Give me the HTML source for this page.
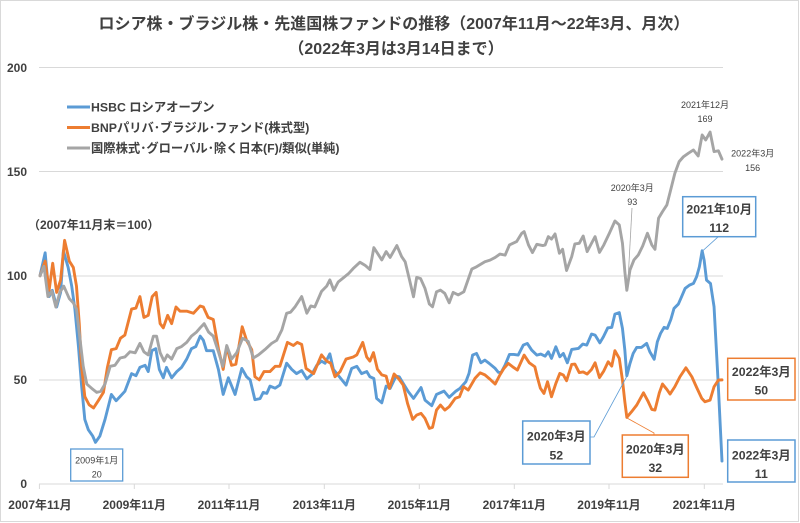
<!DOCTYPE html>
<html><head><meta charset="utf-8">
<style>
html,body{margin:0;padding:0;background:#fff;}
svg{display:block;}
text{font-family:"Liberation Sans","Noto Sans CJK JP",sans-serif;fill:#404040;}
.b{font-weight:bold;}
</style></head>
<body>
<svg width="800" height="523" viewBox="0 0 800 523" xmlns="http://www.w3.org/2000/svg">
<rect x="0" y="0" width="800" height="523" fill="#fff"/>
<rect x="0.5" y="0.5" width="798" height="521" fill="none" stroke="#d9d9d9" stroke-width="1"/>

<!-- Title -->
<text class="b" x="394" y="29" font-size="16" text-anchor="middle">ロシア株・ブラジル株・先進国株ファンドの推移（2007年11月～22年3月、月次）</text>
<text class="b" x="396" y="54" font-size="16" text-anchor="middle">（2022年3月は3月14日まで）</text>

<!-- gridlines -->
<g stroke="#d9d9d9" stroke-width="1">
<line x1="39" y1="67.5" x2="723" y2="67.5"/>
<line x1="39" y1="171.5" x2="723" y2="171.5"/>
<line x1="39" y1="276" x2="723" y2="276"/>
<line x1="39" y1="380" x2="723" y2="380"/>
<line x1="39" y1="484" x2="723" y2="484"/>
<line x1="39.4" y1="484" x2="39.4" y2="489"/>
<line x1="134.3" y1="484" x2="134.3" y2="489"/>
<line x1="229" y1="484" x2="229" y2="489"/>
<line x1="324.3" y1="484" x2="324.3" y2="489"/>
<line x1="419.3" y1="484" x2="419.3" y2="489"/>
<line x1="514.3" y1="484" x2="514.3" y2="489"/>
<line x1="609" y1="484" x2="609" y2="489"/>
<line x1="704.3" y1="484" x2="704.3" y2="489"/>
</g>

<!-- y labels -->
<g class="b" font-size="12" text-anchor="end">
<text class="b" x="27" y="72">200</text>
<text class="b" x="27" y="176">150</text>
<text class="b" x="27" y="280">100</text>
<text class="b" x="27" y="384">50</text>
<text class="b" x="27" y="488">0</text>
</g>

<!-- x labels -->
<g font-size="12" text-anchor="middle">
<text class="b" x="40" y="509">2007年11月</text>
<text class="b" x="134.3" y="509">2009年11月</text>
<text class="b" x="229" y="509">2011年11月</text>
<text class="b" x="324.3" y="509">2013年11月</text>
<text class="b" x="419.3" y="509">2015年11月</text>
<text class="b" x="514.3" y="509">2017年11月</text>
<text class="b" x="609" y="509">2019年11月</text>
<text class="b" x="704.3" y="509">2021年11月</text>
</g>

<!-- legend -->
<line x1="67" y1="107" x2="90" y2="107" stroke="#5B9BD5" stroke-width="3"/>
<line x1="67" y1="127.5" x2="90" y2="127.5" stroke="#ED7D31" stroke-width="3"/>
<line x1="67" y1="148" x2="90" y2="148" stroke="#A5A5A5" stroke-width="3"/>
<text class="b" x="91" y="111.5" font-size="12.3">HSBC ロシアオープン</text>
<text class="b" x="91" y="132" font-size="12.3">BNPパリバ･ブラジル･ファンド(株式型)</text>
<text class="b" x="91" y="152.5" font-size="12.3">国際株式･グローバル･除く日本(F)/類似(単純)</text>

<text class="b" x="28" y="229" font-size="12">（2007年11月末＝100）</text>

<!-- series -->
<g transform="translate(40 484) scale(3.965 -2.0825)" fill="none" stroke-linejoin="round" stroke-linecap="round">
<polyline vector-effect="non-scaling-stroke" stroke="#5B9BD5" stroke-width="2.9" points="0,100 1.3,111 2.3,90 3.1,93 4.2,85 5.2,92 5.9,112 7.1,104 8,95 8.8,84 9.7,66 10.5,47 11.3,31 12.2,26 13.3,23 14,20 15.1,23 16.4,31 18,43 19.2,40 20.2,42 21.4,44.5 23.1,53 24.2,52 25.2,56 26.5,57 27.3,54 28.2,64 29.2,65 30.1,55 31.1,51 31.9,56 33.2,51 34.5,54 35.7,56 37,60 38.2,65 39.3,66 40.4,71 41.2,69 42,64 43.7,64 45,55 46.2,43 47.5,51 49.2,43 50.9,55.5 52.1,51.5 53,50 54.2,40.5 55.5,41 56.3,44 57.2,43.5 58,47 59.3,46 60.5,47.5 62.2,58 63.5,55 64.7,53 66,54.5 67.3,50.5 68.5,52.5 69.8,57 71,59 71.9,58 73.1,62.5 74,55 75.5,51.5 77.2,47.5 78.6,55.5 79.9,56.5 81.1,53 82.4,54 83.2,51.5 84.2,50.7 84.9,41.1 86.2,39 87.3,47 88.3,45.9 89.8,51.8 90.6,51.5 91.6,48.3 92.9,44.3 94.2,41.1 96.1,46.3 97.1,40.3 98.8,37.6 100,43 101.9,44.6 103.2,41.6 104.9,44.6 105.9,45.9 107.4,49.1 108.2,53.1 109.1,61.9 110.1,62.7 111.2,58.2 112.2,59.5 113.3,57.9 114.8,55.5 115.6,53.6 116.4,53.9 117.3,57.1 118.4,62.2 119.5,62.2 120.6,61.9 121.9,66.7 122.9,67.5 124,64.3 125.3,61.9 126.3,62.4 127.4,61.4 128.2,63.5 129,60.3 130.1,65.9 131.1,61.1 132,62.7 133,58.2 134.1,64.6 135.8,65.1 136.9,67.2 137.9,66.7 139.1,72 140,71.5 141.2,67.8 142.1,70.7 143.2,75 144.2,75.2 145,81.6 146.1,82.3 146.9,74.7 147.5,64.3 148,52 148.8,57.9 149.6,62.7 150.5,65.6 151.7,65.6 153,67.5 153.8,63.5 154.9,59.9 155.7,68.3 156.5,72.3 157.4,75.2 158.2,74.7 159.1,79 159.9,84.3 161,86.4 161.8,89.9 162.7,93.9 163.8,95.5 164.8,96.3 165.6,99.5 166.3,104.3 167,112 167.5,107.5 168.1,97.9 169.1,96.3 170,85.1 171,50 172,11"/>
<polyline vector-effect="non-scaling-stroke" stroke="#ED7D31" stroke-width="2.9" points="0,100 1.3,107 2.3,93 3.2,106 4.2,92 5.2,98 6.2,117 7.4,107 8.4,104 9.2,95 9.9,77 10.5,56 11.3,42 12.4,38 13.5,36.5 14.7,40 16,44 17,56 18,64.5 19.2,65 20.3,70 21.4,71.5 23.1,84 24.2,84.5 25.2,90 26.2,80 27.3,81 28.3,90 29.3,92 30.3,77 31.1,75 32.2,81 33.2,77 34.3,85 35.3,83 37,83 38.7,82 40.4,85.5 41.2,85 42.4,80 43.7,79 45,65 46.2,55 47.1,66 48.3,57 49.4,57.5 51,75.5 52.1,69 53.4,64.5 54.2,51.5 55.3,50 56.5,54 58,54 59.3,56.5 60.5,56.5 62.4,68 63.9,66.5 64.9,68 66,67 67.1,55.5 69,53 71,62 72.3,59 73.3,58 74.4,51.5 75.7,54 77.2,60 79,61 79.9,62 81.4,68 82.4,61 83.2,59 84.1,63.1 85.1,55.1 86.2,52.4 87.3,51.8 88.1,45.9 89.3,52.8 90.4,50.7 91.6,47.5 92.7,38.7 94,31 95,33.1 96.1,33.9 97.1,31.5 98.2,26.7 99,27.2 100,35.5 101,37.9 102.1,35.5 103.2,37.1 104.7,41.1 105.8,41.9 106.8,46.7 108,45.1 109.7,50.7 111,53.4 112.2,52.4 113.5,50.3 114.8,48 116,52.4 117,55.5 118.1,57.9 119.2,56.3 120.4,54.7 122.1,61.9 123.4,58.2 124.8,56.3 125.4,51.5 126.2,46 127.1,43.5 128,49.1 129,41.9 130.1,48.3 131.1,53.1 132,52.3 132.8,49.6 134.1,57.4 134.9,57.6 136,53.5 137,53.8 138,52.8 139.1,55 140,58.2 141.1,51.1 142.2,54.3 143.3,58.7 144.2,56.6 145,64 146.1,60.3 146.9,49.9 147.5,39.5 148,32 149.2,34.7 150.5,37.9 152.2,43.8 153.4,39.5 154.3,35.8 155.1,35.5 156.2,43.8 157,48 158.1,45.4 158.9,43.2 160.1,46.7 161.4,51.5 162.9,55.8 164.4,51.5 165.6,46.4 166.9,41.1 167.7,39.5 169,40.3 170,46.7 171.1,49.9 172,50"/>
<polyline vector-effect="non-scaling-stroke" stroke="#A5A5A5" stroke-width="2.9" points="0,100 1,104.5 2,90 3,92.5 4,85 5,92 6,95 7.4,89 8.4,87 9.2,84 10,71 10.9,56.5 11.8,48 13,46 14.3,44 15.3,44.5 16.4,48 17.7,56.5 18.9,57 20.2,60.5 21.4,61 22.7,63.5 24,63 25.2,67.5 26.2,63.5 27.3,62 28.6,71 29.4,71 30.3,63 31.3,59 32.1,62 33.2,60 34.5,65 35.7,66 37,68 38.2,71 39.5,73 40.4,75 41.4,77 42.5,73 43.7,71 45,63.5 46.1,56.5 47.1,66.5 48.3,60 49.6,63 51.1,70 52.5,68.5 53.8,60.5 55.1,62 56.7,64.5 58.4,67.5 59.7,69 61,74 62.2,82 63.2,82.5 64.3,85 66,90 67.3,82 68.3,85.5 69.3,85 71,92.5 72.3,95 73.1,98 74.1,93 75.2,97 76.5,99 77.8,101 79,103.5 80.7,106.5 82,105 83.2,103 84.2,113.5 86.2,107.6 87.3,111.6 88.3,108.8 90,114.5 91.2,109.2 92.1,106.7 93.2,98 94.2,89.9 95,99.2 96,98.6 97.1,93.9 98.2,86.4 99,85.1 100,92.3 101,93.1 102.1,91.5 103.2,87 104.2,92 105.5,90.8 106.9,92.3 108.9,103.2 110.1,104.3 112.2,106.7 113.5,107.5 114.8,108.8 116,110.4 117.3,109.9 118.4,114.8 120.2,116.4 121.5,120.4 122.1,121.2 123.2,114.8 124.2,111.1 125.3,115.1 126.8,114.5 127.4,114.8 128.2,118.8 129,117.6 129.9,120.1 131,110.8 131.8,112.7 132.8,102.5 134.1,109.2 134.9,115.3 136,115.6 137,119.1 138,111.6 139.1,115.6 140,118.8 141.1,111.2 142.2,114.8 143.6,120.4 145,126.3 146.1,124.4 146.9,115.6 147.5,102 148,93 148.8,102.8 149.8,107.6 150.9,110 152,114.3 153.2,120.4 154.3,114.8 155.1,112.7 156,127.6 157,130.8 158.1,134 159.1,141.5 160.1,149.1 161.2,154.8 162.3,157.2 163.5,158.8 164.8,160.4 166,157.5 167,167.6 167.9,165.2 169,169 170,159.6 171.1,160 172,156"/>
</g>

<!-- leader lines -->
<line x1="632" y1="208" x2="627.5" y2="290" stroke="#a5a5a5" stroke-width="0.8"/>
<polyline points="590,437 594,437 626.5,377" fill="none" stroke="#5B9BD5" stroke-width="0.8"/>
<polyline points="627,418 654,433 654,435" fill="none" stroke="#ED7D31" stroke-width="0.8"/>
<line x1="718.3" y1="236.7" x2="702.5" y2="251" stroke="#5B9BD5" stroke-width="0.8"/>

<!-- gray annotations -->
<g font-size="9" text-anchor="middle">
<text x="705" y="108" fill="#404040">2021年12月</text>
<text x="705" y="122" fill="#404040">169</text>
<text x="752.7" y="156.5" fill="#404040">2022年3月</text>
<text x="752.7" y="171" fill="#404040">156</text>
<text x="632.3" y="191" fill="#404040">2020年3月</text>
<text x="632.3" y="205" fill="#404040">93</text>
</g>

<!-- boxes -->
<rect x="70.7" y="449" width="52" height="32" fill="#fff" stroke="#5B9BD5" stroke-width="1.3"/>
<text x="96.7" y="463.5" font-size="9" text-anchor="middle">2009年1月</text>
<text x="96.7" y="477.5" font-size="9" text-anchor="middle">20</text>

<rect x="522.7" y="421" width="67.3" height="43" fill="#fff" stroke="#5B9BD5" stroke-width="1.5"/>
<text class="b" x="556.3" y="440.5" font-size="12.3" text-anchor="middle">2020年3月</text>
<text class="b" x="556.3" y="459.5" font-size="12.3" text-anchor="middle">52</text>

<rect x="622.3" y="435" width="66" height="42.3" fill="#fff" stroke="#ED7D31" stroke-width="1.5"/>
<text class="b" x="655.3" y="453.5" font-size="12.3" text-anchor="middle">2020年3月</text>
<text class="b" x="655.3" y="472" font-size="12.3" text-anchor="middle">32</text>

<rect x="682.7" y="196.7" width="73" height="40" fill="#fff" stroke="#5B9BD5" stroke-width="1.5"/>
<text class="b" x="719.2" y="213.5" font-size="12.3" text-anchor="middle">2021年10月</text>
<text class="b" x="719.2" y="232" font-size="12.3" text-anchor="middle">112</text>

<rect x="727.7" y="358.3" width="67.3" height="41.7" fill="#fff" stroke="#ED7D31" stroke-width="1.5"/>
<text class="b" x="761.3" y="376" font-size="12.3" text-anchor="middle">2022年3月</text>
<text class="b" x="761.3" y="394.5" font-size="12.3" text-anchor="middle">50</text>

<rect x="727.7" y="440" width="67.3" height="42" fill="#fff" stroke="#5B9BD5" stroke-width="1.5"/>
<text class="b" x="761.3" y="459.5" font-size="12.3" text-anchor="middle">2022年3月</text>
<text class="b" x="761.3" y="478" font-size="12.3" text-anchor="middle">11</text>
</svg>
</body></html>
